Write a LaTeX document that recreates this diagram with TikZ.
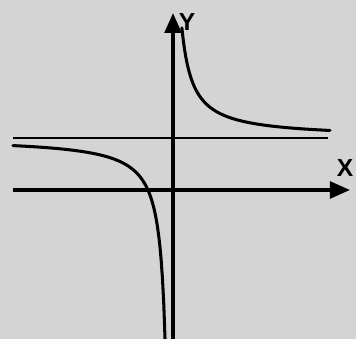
\documentclass[tikz,border=0pt]{standalone}
\usepackage{fontspec}
\setsansfont{Liberation Sans}
\usetikzlibrary{arrows.meta, positioning}

\begin{document}
\begin{tikzpicture}[
    x=0.03cm, y=0.03cm,
    every node/.style={font=\sffamily\bfseries\fontsize{21}{21}\selectfont},
    axis/.style={line width=3pt, -{Triangle[length=0.6cm, width=0.5cm]}},
    branch/.style={line width=2.6pt, black, line cap=round},
    asym/.style={line width=2.3pt, black}
]
    % paper background
    \fill[black!17] (-173,-149) rectangle (183,190);
    \useasboundingbox (-173,-149) rectangle (183,190);

    % ends of the axes and of the asymptote
    \coordinate (xs) at (-160,0);
    \coordinate (xe) at (177,0);
    \coordinate (ys) at (0,-149);
    \coordinate (ye) at (0,177);
    \coordinate (as) at (-160,52);
    \coordinate (ae) at (155,52);

    \draw[asym] (as) -- (ae);
    \draw[axis] (xs) -- (xe);
    \draw[axis] (ys) -- (ye);

    \node (xlab) at (172,22) {X};
    \node (ylab) at (14,168) {Y};

    % the two branches
    \draw[branch] plot[domain=8.9:157, samples=120] (\x, {52 + 1200/(\x+2)});
    \draw[branch] plot[domain=-160:-7.97, samples=120] (\x, {52 + 1200/(\x+2)});
\end{tikzpicture}
\end{document}
